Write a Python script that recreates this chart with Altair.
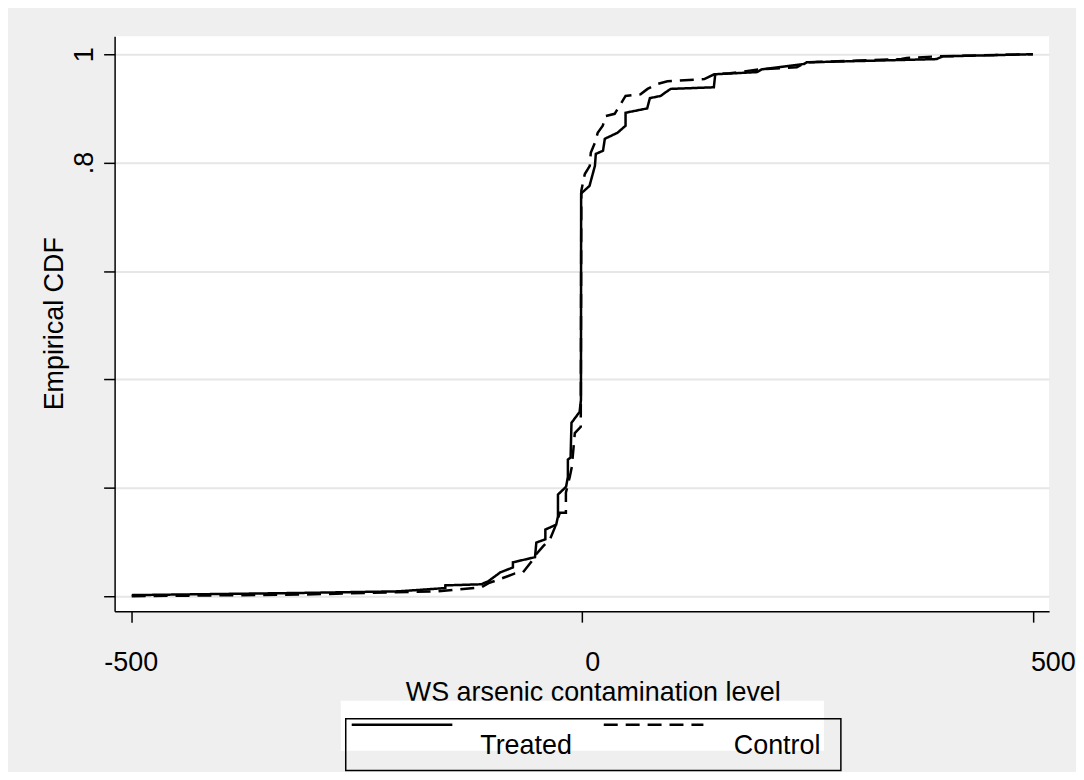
import altair as alt
import pandas as pd

# ---- data (empirical CDF vertices) ----
treated_x = [-500, -314, -204, -152, -152, -112, -104, -91, -77, -77, -52.5, -51, -41, -41, -29, -27, -27,
             -18, -16, -16, -13, -12, -3, -1.5, -1.3, 8, 14, 15, 23, 25, 39, 48, 48, 72, 75, 87, 91, 98,
             146, 147.5, 194, 199, 246, 249, 393, 400, 500]
treated_y = [0.002, 0.006, 0.009, 0.015, 0.020, 0.022, 0.028, 0.044, 0.053, 0.0625, 0.072, 0.099, 0.105,
             0.123, 0.132, 0.147, 0.1875, 0.202, 0.22, 0.252, 0.256, 0.32, 0.34, 0.362, 0.743, 0.757, 0.794,
             0.816, 0.822, 0.844, 0.855, 0.868, 0.892, 0.90, 0.919, 0.923, 0.928, 0.936, 0.939, 0.963, 0.967,
             0.972, 0.982, 0.985, 0.991, 0.996, 1.0]

control_x = [-500, -314, -160, -112, -104, -74.6, -65.9, -57, -51.4, -43.6, -35.9, -30.4, -24.9, -18.2,
             -18.2, -13.8, -11.6, -8.3, -1.7, -1.1, 2.8, 8.3, 9.4, 13.8, 17.1, 22.7, 26, 35.9, 42.5, 48,
             64.6, 72.4, 83.4, 94.5, 135.4, 146.4, 164, 197, 238, 249, 354, 360, 393, 500]
control_y = [0.0, 0.003, 0.009, 0.0165, 0.024, 0.042, 0.044, 0.0625, 0.077, 0.092, 0.105, 0.127, 0.154,
             0.154, 0.191, 0.221, 0.239, 0.301, 0.3125, 0.748, 0.779, 0.794, 0.818, 0.836, 0.855, 0.868,
             0.886, 0.890, 0.908, 0.923, 0.926, 0.936, 0.945, 0.950, 0.954, 0.963, 0.965, 0.972, 0.976,
             0.985, 0.991, 0.993, 0.996, 1.0]

groups = ["Treated", "Control"]
y_ticks = [0, 0.2, 0.4, 0.6, 0.8, 1]
x_ticks = [-500, 0, 500]
x_title = "WS arsenic contamination level"
y_title = "Empirical CDF"

rows = []
for i, (xv, yv) in enumerate(zip(treated_x, treated_y)):
    rows.append({"group": "Treated", "x": xv, "y": yv, "idx": i})
for i, (xv, yv) in enumerate(zip(control_x, control_y)):
    rows.append({"group": "Control", "x": xv, "y": yv, "idx": i})
df = pd.DataFrame(rows)

FONT = "Liberation Sans"
W, H = 938, 577

xscale = alt.Scale(domain=[-519, 518], nice=False, zero=False)
yscale = alt.Scale(domain=[-0.0276, 1.033], nice=False, zero=False)

x_label_offset = {
    "condition": [
        {"test": "datum.value > 0", "value": 20},
        {"test": "datum.value == 0", "value": 10},
    ],
    "value": -1,
}

lines = alt.Chart(df).mark_line(strokeWidth=2.5, color="black", strokeCap="butt").encode(
    x=alt.X("x:Q", scale=xscale,
            axis=alt.Axis(values=x_ticks, title=x_title, grid=False, tickSize=11,
                          labelExpr="datum.value < 0 ? '-' + abs(datum.value) : '' + datum.value",
                          labelOffset=x_label_offset,
                          labelPadding=49, labelBaseline="alphabetic", labelFontSize=27,
                          titleX=480, titleY=90, titleBaseline="alphabetic", titleAlign="center",
                          titleFontSize=27)),
    y=alt.Y("y:Q", scale=yscale,
            axis=alt.Axis(values=y_ticks, title=y_title, grid=True, tickSize=11,
                          labelExpr="datum.value == 1 ? '1' : (abs(datum.value - 0.8) < 0.001 ? '.8' : '')",
                          labelAngle=270, labelAlign="center", labelBaseline="alphabetic",
                          labelPadding=11, labelFontSize=27,
                          titleAngle=270, titleX=-52, titleY=288, titleAlign="center",
                          titleBaseline="alphabetic", titleFontSize=27)),
    strokeDash=alt.StrokeDash("group:N", scale=alt.Scale(domain=groups, range=[[1, 0], [14, 8]]),
                              legend=None),
    detail="group:N",
    order="idx:Q",
)

# ---- manual legend (Stata style) ----
one = alt.Data(values=[{"a": 1}])
leg_white = alt.Chart(one).mark_rect(fill="white").encode(
    x=alt.value(227), x2=alt.value(712), y=alt.value(667), y2=alt.value(717))
leg_box = alt.Chart(one).mark_rect(fillOpacity=0, stroke="black", strokeWidth=1.5).encode(
    x=alt.value(232), x2=alt.value(729), y=alt.value(685), y2=alt.value(737))
leg_solid = alt.Chart(one).mark_rule(color="black", strokeWidth=2.5).encode(
    x=alt.value(238), x2=alt.value(339), y=alt.value(691))
leg_dash = alt.Chart(one).mark_rule(color="black", strokeWidth=2.5, strokeDash=[14, 8]).encode(
    x=alt.value(491), x2=alt.value(591), y=alt.value(691))
leg_text = alt.Chart(pd.DataFrame({"label": groups, "px": [413, 665]})).mark_text(
    font=FONT, fontSize=27, color="black", baseline="alphabetic", align="center").encode(
    x=alt.X("px:Q", scale=None), y=alt.value(720), text="label:N")

chart = alt.layer(lines, leg_white, leg_box, leg_solid, leg_dash, leg_text).properties(
    width=W, height=H,
    background="#efefef",
    padding={"left": 107, "top": 27, "right": 27, "bottom": 160},
    autosize=alt.AutoSizeParams(type="none"),
).configure_view(fill="white", stroke=None).configure_axis(
    labelFont=FONT, titleFont=FONT, labelColor="black", titleColor="black",
    titleFontWeight="normal", domainColor="black", domainWidth=1.5,
    tickColor="black", tickWidth=1.5, gridColor="#e6e6e6", gridWidth=2,
)

chart.save("out.html", embed_options={"renderer": "svg", "actions": False})
